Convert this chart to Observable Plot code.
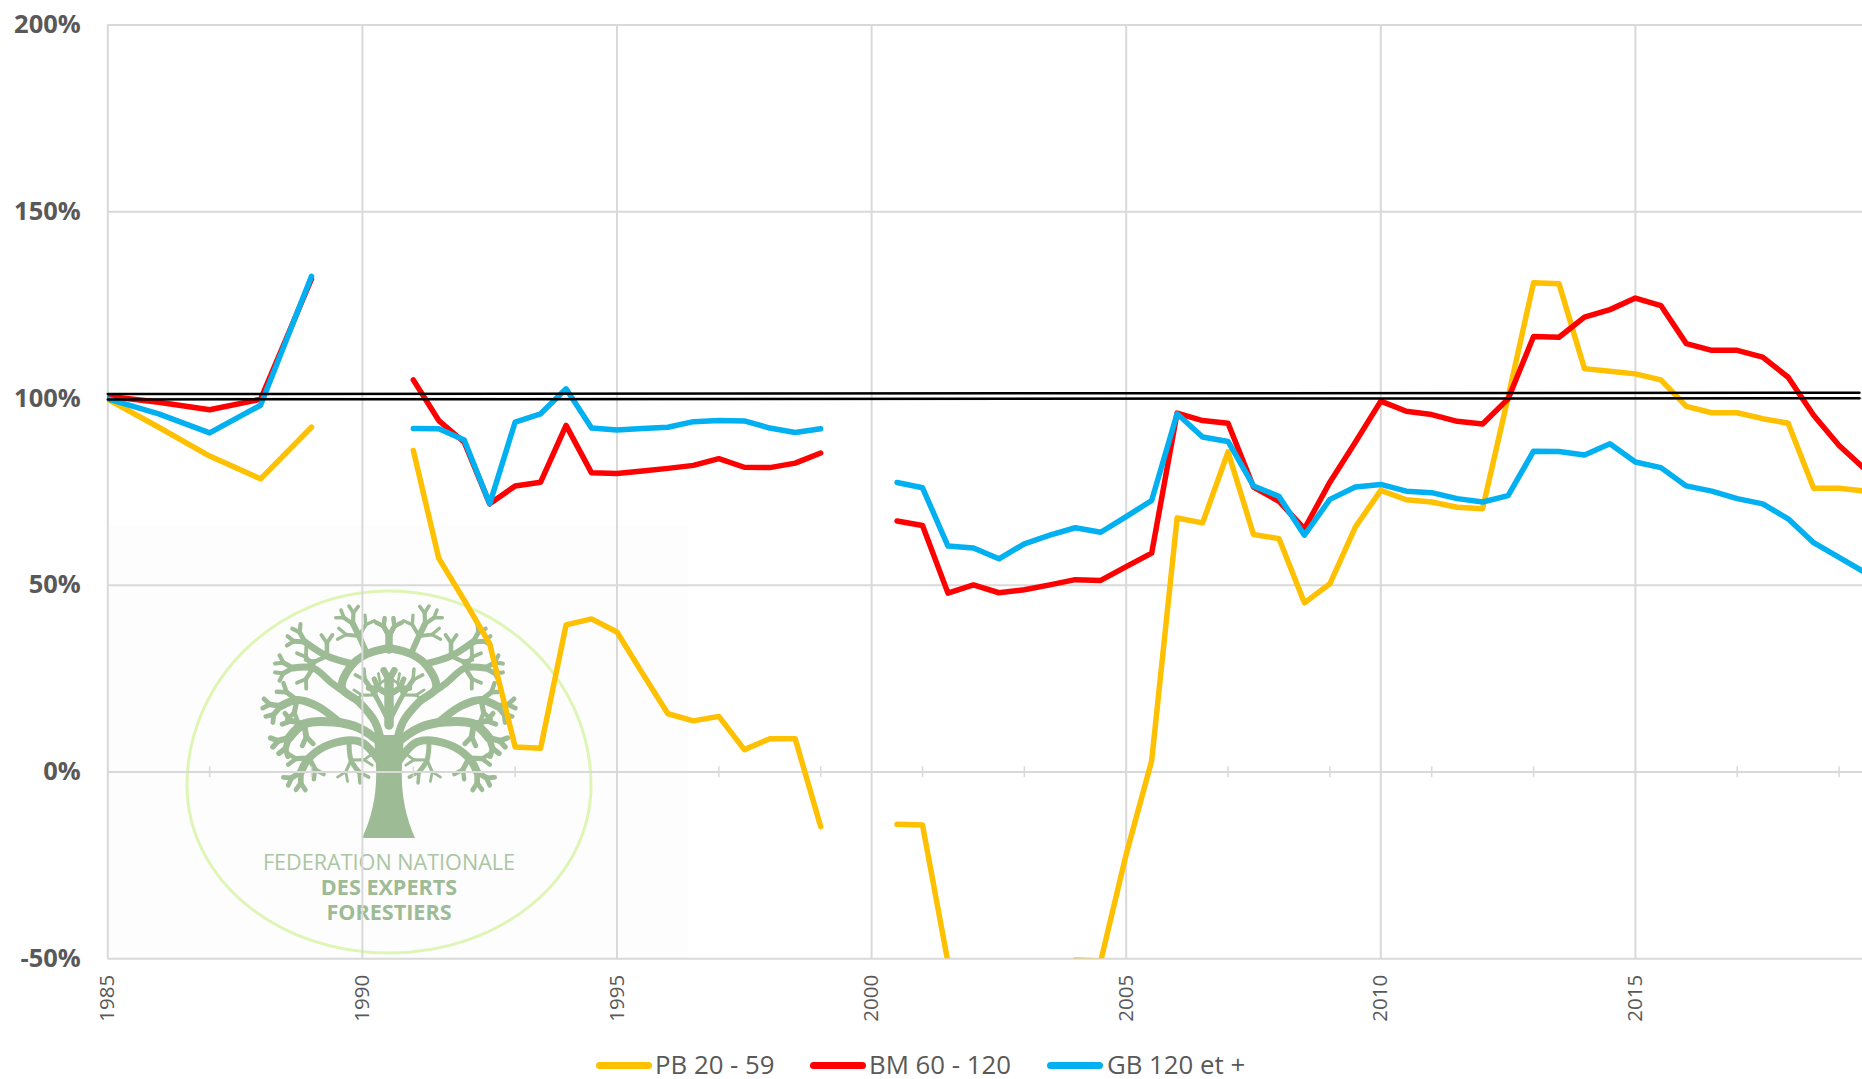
<!DOCTYPE html>
<html><head><meta charset="utf-8">
<script src="https://cdn.jsdelivr.net/npm/d3@7"></script>
<script src="https://cdn.jsdelivr.net/npm/@observablehq/plot@0.6"></script>
<style>
html,body{margin:0;padding:0;background:#fff;overflow:hidden}
svg{display:block}
#legend{position:relative;height:39px;width:1862px;font:25.8px "Open Sans",sans-serif;color:#595959}
#legend span{position:absolute;top:10px;line-height:28px;white-space:nowrap}
#legend i{position:absolute;top:22px;height:7px;border-radius:3.5px;display:block}
</style></head><body>
<div id="chart"></div>
<div id="legend"></div>
<script>
const years = [1985,1986,1987,1988,1989,1990,
 1991,1991.5,1992,1992.5,1993,1993.5,1994,1994.5,1995,1995.5,1996,1996.5,1997,1997.5,1998,1998.5,1999,2000,
 2000.5,2001,2001.5,2002,2002.5,2003,2003.5,2004,2004.5,2005,2005.5,2006,2006.5,2007,2007.5,2008,2008.5,2009,2009.5,
 2010,2010.5,2011,2011.5,2012,2012.5,2013,2013.5,2014,2014.5,2015,2015.5,2016,2016.5,2017,2017.5,2018,2018.5,2019,2019.5];
const pb = [99.8,92.3,84.6,78.5,92.3,null,
 86.1,57.2,46,34.3,6.7,6.4,39.4,41,37.5,26.4,15.6,13.7,14.9,6,8.9,8.9,-14.6,null,
 -14,-14.2,-51,-70,-75,-65,-58,-50.3,-50.6,-22,3,68,66.7,85.7,63.6,62.5,45.3,50.4,65.6,
 75.4,72.9,72.3,70.9,70.5,100.4,131,130.7,108,107.3,106.6,105,97.9,96.2,96.2,94.6,93.4,76,76,75.2];
const bm = [100.6,99,97,99.8,132,null,
 105,94.1,88.3,71.8,76.6,77.6,92.8,80.1,79.9,80.6,81.3,82.1,83.9,81.6,81.5,82.7,85.4,null,
 67.2,66,47.9,50.1,48,48.8,50.1,51.5,51.3,55,58.6,96.1,94.1,93.4,76.3,72.5,65.1,77.6,88.3,
 99.3,96.6,95.7,93.9,93.2,99.9,116.6,116.4,121.8,123.8,126.9,124.9,114.7,112.9,112.9,111.1,105.7,95.5,87.4,81.2];
const gb = [99.9,95.9,90.8,98.2,132.7,null,
 92,91.9,88.9,71.8,93.7,95.9,102.6,92.1,91.6,92,92.3,93.8,94.1,94,92.1,90.9,91.9,null,
 77.5,76.1,60.5,60,57.1,61.1,63.4,65.4,64.2,68.4,72.7,95.9,89.7,88.5,76.6,73.8,63.4,73,76.3,
 77,75.2,74.8,73.2,72.3,74,85.9,85.8,84.9,87.9,83,81.5,76.6,75.2,73.2,71.8,67.8,61.4,57.5,53.5];
const seriesNames = ["PB 20 - 59","BM 60 - 120","GB 120 et +"];
const seriesColors = ["#FFC000","#FF0000","#00B0F0"];
const yTicks = [-50,0,50,100,150,200];
const xTicks = [1985,1990,1995,2000,2005,2010,2015];
const minorTicks = [1985,1987,1989,1991,1993,1995,1997,1999,2001,2003,2005,2007,2009,2011,2013,2015,2017,2019];
const refX = [1985,2019.4];
const refUpper = [101.2,101.55];
const refLower = [99.75,100.1];

const rows = s => years.map((x,i)=>({x,y:s[i]}));
const GRID="#d9d9d9", TXT="#595959", TREE="#9dbb94";

function logo(){
  const g=d3.create("svg:g");
  g.append("rect").attr("x",108).attr("y",526).attr("width",580).attr("height",432).attr("fill","#fdfdfd");
  g.append("path").attr("d","M389 591 C500 591 591 680 591 785 C591 880 500 953 389 953 C278 953 187 880 187 785 C187 680 278 591 389 591 Z")
    .attr("fill","none").attr("stroke","#dff5b5").attr("stroke-width",3);
  const cx=389;
  g.append("path").attr("fill",TREE)
    .attr("d","M362 838 Q378 805 376 765 L374 735 L404 735 L402 765 Q400 805 415 838 Z");
  const tree=g.append("g").attr("fill","none").attr("stroke",TREE).attr("stroke-linecap","round").attr("stroke-linejoin","round");
  const ln=d3.line().curve(d3.curveCatmullRom);
  function twig(s,x,y,a,len,w,d){
    const x2=x+Math.cos(a)*len,y2=y+Math.sin(a)*len;
    tree.append("line").attr("x1",cx+s*x).attr("y1",y).attr("x2",cx+s*x2).attr("y2",y2).attr("stroke-width",w);
    if(d>0){twig(s,x2,y2,a-.6,len*.75,w*.85,d-1);twig(s,x2,y2,a+.6,len*.75,w*.85,d-1);}
  }
  const limbs=[
   [[7,765],[28,742],[58,744],[80,758],[88,772],8,2],
   [[40,742],[38,760],[30,772],5,1],
   [[5,745],[30,728],[55,722],[85,724],[100,738],9,2],
   [[50,722],[72,706],[92,700],[108,706],8,2],
   [[6,750],[14,722],[30,702],[47,688],[38,666],[22,654],[0,648],8,0],
   [[30,702],[56,684],[76,668],[96,668],7,2],
   [[36,664],[62,656],[84,642],7,2],
   [[22,654],[30,636],[36,624],6,2],
   [[0,725],[0,695],[0,680],9,1],
   [[3,716],[14,695],[24,680],5,1],
   [[0,650],[0,636],7,2]
  ];
  for(const s of [1,-1]) for(const l of limbs){
    const pts=l.slice(0,-2),w=l[l.length-2],d=l[l.length-1];
    tree.append("path").attr("d",ln(pts.map(p=>[cx+s*p[0],p[1]]))).attr("stroke-width",w);
    if(d>0){
      const a=pts[pts.length-2],b=pts[pts.length-1],ang=Math.atan2(b[1]-a[1],b[0]-a[0]);
      twig(s,b[0],b[1],ang-.5,11,w*.7,d-1);
      twig(s,b[0],b[1],ang+.5,11,w*.7,d-1);
      if(pts.length>2){
        const m=pts[pts.length-2];
        twig(s,m[0],m[1],ang-1,13,w*.65,1);
        twig(s,m[0],m[1],ang+1,13,w*.65,1);
      }
    }
  }
  const t=g.append("text").attr("text-anchor","middle").attr("font-family","'Open Sans',sans-serif").attr("font-size",21.6);
  t.append("tspan").attr("x",cx).attr("y",870).attr("fill","#aac5a3").text("FEDERATION NATIONALE");
  t.append("tspan").attr("x",cx).attr("y",895).attr("fill",TREE).attr("font-weight",700).text("DES EXPERTS");
  t.append("tspan").attr("x",cx).attr("y",920).attr("fill",TREE).attr("font-weight",700).text("FORESTIERS");
  return g.node();
}

const lineOpts={x:"x",y:"y",strokeWidth:5.5,strokeLinejoin:"round",strokeLinecap:"round",clip:true};
const plot=Plot.plot({
  width:1862,height:1040,
  marginLeft:107.3,marginRight:0,marginTop:24.5,marginBottom:81.7,
  style:{background:"#fff",overflow:"visible"},
  x:{domain:[1985,2019.46],label:null},
  y:{domain:[-50,200],label:null},
  marks:[
    logo,
    Plot.ruleY(yTicks,{stroke:GRID,strokeWidth:2}),
    Plot.ruleX(xTicks,{stroke:GRID,strokeWidth:2}),
    Plot.ruleX(minorTicks,{y1:-1.5,y2:1.4,stroke:GRID,strokeWidth:1.5}),
    Plot.line(rows(pb),{...lineOpts,stroke:seriesColors[0]}),
    Plot.line(rows(bm),{...lineOpts,stroke:seriesColors[1]}),
    Plot.line(rows(gb),{...lineOpts,stroke:seriesColors[2]}),
    Plot.line(refX.map((x,i)=>({x,y:refUpper[i]})),{x:"x",y:"y",stroke:"#000",strokeWidth:2.5}),
    Plot.line(refX.map((x,i)=>({x,y:refLower[i]})),{x:"x",y:"y",stroke:"#000",strokeWidth:2.5}),
    Plot.axisY({ticks:yTicks,tickSize:0,tickPadding:27,tickFormat:d=>d+"%",fontSize:25.5,fontWeight:700,fontFamily:"'Open Sans',sans-serif",color:TXT,label:null}),
    Plot.axisX({ticks:xTicks,tickSize:0,tickPadding:16,tickRotate:-90,tickFormat:d=>String(d),fontSize:20.5,fontFamily:"'Open Sans',sans-serif",color:TXT,label:null})
  ]
});
document.getElementById("chart").append(plot);
const leg=d3.select("#legend");
const swatchX=[596,810,1047], textX=[655,869,1107];
seriesNames.forEach((n,i)=>{
  leg.append("i").style("left",swatchX[i]+"px").style("width","56px").style("background",seriesColors[i]);
  leg.append("span").style("left",textX[i]+"px").text(n);
});
</script>
</body></html>
